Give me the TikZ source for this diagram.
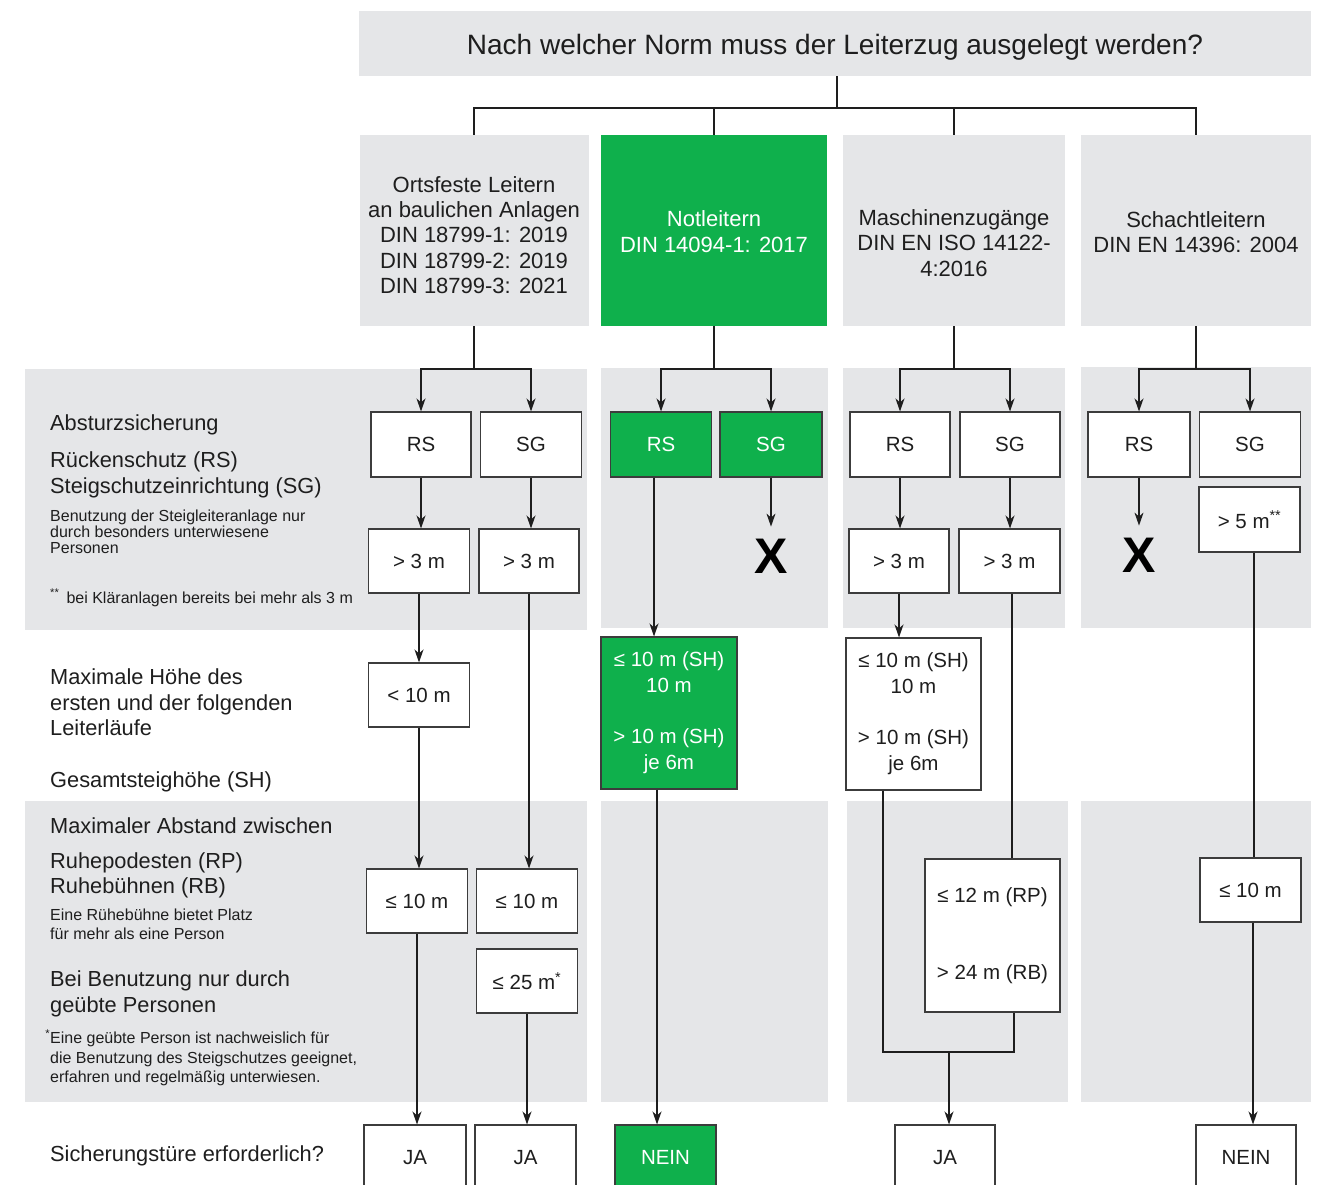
\documentclass[tikz,border=0pt]{standalone}
\usepackage{fontspec}
\setmainfont{Liberation Sans}
\usetikzlibrary{arrows.meta}
\definecolor{panel}{HTML}{E5E6E8}
\definecolor{grn}{HTML}{0FB04C}
\definecolor{edge}{HTML}{3C3C3C}
\definecolor{ink}{HTML}{1E1E1E}
\newcommand\fsz[2]{\fontsize{#1}{#2}\selectfont}
\begin{document}
\begin{tikzpicture}[x=1pt,y=-1pt,
  box/.style={draw=edge, line width=1.1pt, fill=white, inner sep=0pt, align=center, font=\fsz{20.5}{26}, text=ink},
  gbox/.style={box, fill=grn, text=white},
  cat/.style={fill=panel, inner sep=0pt},
  gcat/.style={fill=grn, inner sep=0pt},
  cattext/.style={align=center, inner sep=0pt, font=\fsz{22}{25.3}, text=ink},
  ltx/.style={anchor=base west, inner sep=0pt, font=\fsz{21.8}{26}, text=ink},
  stx/.style={anchor=base west, inner sep=0pt, font=\fsz{16}{19}, text=ink},
  line/.style={draw=ink, line width=1.35pt},
  arr/.style={line, -{Stealth[length=13pt,width=9pt,inset=4pt]}},
  cross/.style={inner sep=0pt, font=\fsz{50}{50}\bfseries, text=black},
]
\useasboundingbox (0,0) rectangle (1325,1184);
\clip (0,0) rectangle (1325,1184);

% background panels
\fill[panel] (25,369) rectangle (587,630);
\fill[panel] (601,368) rectangle (828,628);
\fill[panel] (843,368) rectangle (1065,628);
\fill[panel] (1081,367) rectangle (1311,628);
\fill[panel] (25,801) rectangle (587,1102);
\fill[panel] (601,801) rectangle (828,1102);
\fill[panel] (847,801) rectangle (1068,1102);
\fill[panel] (1081,801) rectangle (1311,1102);

% title
\node[cat, minimum width=952pt, minimum height=65pt] (title) at (835,43.5) {};
\node[anchor=base, inner sep=0pt, font=\fsz{28}{30}, text=ink] (tt) at (835,54)
  {Nach welcher Norm muss der Leiterzug ausgelegt werden?};

% category boxes
\node[cat, minimum width=229pt, minimum height=191pt] (c1) at (474,230.5) {};
\node[gcat, minimum width=226pt, minimum height=191pt] (c2) at (714,230.5) {};
\node[cat, minimum width=222pt, minimum height=191pt] (c3) at (954,230.5) {};
\node[cat, minimum width=230pt, minimum height=191pt] (c4) at (1196,230.5) {};
\node[cattext] (t1) at (474,235) {Ortsfeste Leitern\\an baulichen Anlagen\\DIN 18799-1: 2019\\DIN 18799-2: 2019\\DIN 18799-3: 2021};
\node[cattext, text=white] (t2) at (714,231.5) {Notleitern\\DIN 14094-1: 2017};
\node[cattext] (t3) at (954,243) {Maschinenzugänge\\DIN EN ISO 14122-\\4:2016};
\node[cattext] (t4) at (1196,232) {Schachtleitern\\DIN EN 14396: 2004};

% left texts
\node[ltx] (l1) at (50,430.5) {Absturzsicherung};
\node[ltx] (l2) at (50,467.5) {Rückenschutz (RS)};
\node[ltx] (l3) at (50,493.5) {Steigschutzeinrichtung (SG)};
\node[stx] (l4) at (50,521) {Benutzung der Steigleiteranlage nur};
\node[stx] (l5) at (50,537) {durch besonders unterwiesene};
\node[stx] (l6) at (50,553) {Personen};
\node[stx] (l7) at (50,603) {\textsuperscript{**}\, bei Kläranlagen bereits bei mehr als 3 m};
\node[ltx] (l8) at (50,684.5) {Maximale Höhe des};
\node[ltx] (l9) at (50,710.5) {ersten und der folgenden};
\node[ltx] (l10) at (50,735.5) {Leiterläufe};
\node[ltx] (l11) at (50,787.5) {Gesamtsteighöhe (SH)};
\node[ltx] (l12) at (50,833.5) {Maximaler Abstand zwischen};
\node[ltx] (l13) at (50,868.5) {Ruhepodesten (RP)};
\node[ltx] (l14) at (50,893.5) {Ruhebühnen (RB)};
\node[stx] (l15) at (50,920.5) {Eine Rühebühne bietet Platz};
\node[stx] (l16) at (50,939.5) {für mehr als eine Person};
\node[ltx] (l17) at (50,986.5) {Bei Benutzung nur durch};
\node[ltx] (l18) at (50,1012.5) {geübte Personen};
\node[stx] (l19) at (50,1043.5) {\llap{\textsuperscript{*}}Eine geübte Person ist nachweislich für};
\node[stx] (l20) at (50,1063) {die Benutzung des Steigschutzes geeignet,};
\node[stx] (l21) at (50,1082.5) {erfahren und regelmäßig unterwiesen.};
\node[ltx] (l22) at (50,1161.5) {Sicherungstüre erforderlich?};

% column 1
\node[box, minimum width=100pt, minimum height=65pt] (rs1) at (421,444.5) {RS};
\node[box, minimum width=101pt, minimum height=65pt] (sg1) at (531,444.5) {SG};
\node[box, minimum width=101pt, minimum height=64pt] (g1a) at (419,561) {> 3 m};
\node[box, minimum width=100pt, minimum height=64pt] (g1b) at (529,561) {> 3 m};
\node[box, minimum width=101pt, minimum height=64pt] (lt1) at (419,695) {< 10 m};
\node[box, minimum width=101pt, minimum height=64pt] (le1a) at (417,901) {≤ 10 m};
\node[box, minimum width=101pt, minimum height=64pt] (le1b) at (527,901) {≤ 10 m};
\node[box, minimum width=101pt, minimum height=64pt] (le25) at (527,981) {≤ 25 m\textsuperscript{*}};
\node[box, minimum width=102pt, minimum height=65pt] (ja1) at (415,1157.5) {JA};
\node[box, minimum width=101pt, minimum height=65pt] (ja2) at (525.5,1157.5) {JA};

% column 2
\node[gbox, minimum width=101pt, minimum height=65pt] (rs2) at (661,444.5) {RS};
\node[gbox, minimum width=102pt, minimum height=65pt] (sg2) at (771,444.5) {SG};
\node[cross] (x2) at (771,556) {X};
\node[gbox, minimum width=136pt, minimum height=152pt] (sh2) at (669,713) {≤ 10 m (SH)\\10 m\\[25pt]> 10 m (SH)\\je 6m};
\node[gbox, minimum width=101pt, minimum height=65pt] (nein2) at (665.5,1157.5) {NEIN};

% column 3
\node[box, minimum width=100pt, minimum height=65pt] (rs3) at (900,444.5) {RS};
\node[box, minimum width=100pt, minimum height=65pt] (sg3) at (1010,444.5) {SG};
\node[box, minimum width=100pt, minimum height=64pt] (g3a) at (899,561) {> 3 m};
\node[box, minimum width=101pt, minimum height=64pt] (g3b) at (1009.5,561) {> 3 m};
\node[box, minimum width=135pt, minimum height=152pt] (sh3) at (913.5,714) {≤ 10 m (SH)\\10 m\\[25pt]> 10 m (SH)\\je 6m};
\node[box, minimum width=135pt, minimum height=153pt] (rp3) at (992.5,935.5) {≤ 12 m (RP)\\[51pt]> 24 m (RB)};
\node[box, minimum width=100pt, minimum height=65pt] (ja3) at (945,1157.5) {JA};

% column 4
\node[box, minimum width=102pt, minimum height=65pt] (rs4) at (1139,444.5) {RS};
\node[box, minimum width=101pt, minimum height=65pt] (sg4) at (1250,444.5) {SG};
\node[cross] (x4) at (1139,555) {X};
\node[box, minimum width=101pt, minimum height=65pt] (g4) at (1249.5,519.5) {> 5 m\textsuperscript{**}};
\node[box, minimum width=101pt, minimum height=64pt] (le4) at (1250.5,890) {≤ 10 m};
\node[box, minimum width=100pt, minimum height=65pt] (nein4) at (1246,1157.5) {NEIN};

% connectors from title
\coordinate (hb) at (837,108);
\draw[line] (title.south -| hb) -- (hb);
\draw[line] (c1.north) |- (hb) -| (c4.north);
\draw[line] (c2.north) -- (c2.north |- hb);
\draw[line] (c3.north) -- (c3.north |- hb);

% branching into RS / SG
\coordinate (j1) at (c1.south |- 0,369);
\coordinate (j2) at (c2.south |- 0,369);
\coordinate (j3) at (c3.south |- 0,369);
\coordinate (j4) at (c4.south |- 0,369);
\draw[line] (c1.south) -- (j1);
\draw[arr] (j1) -| (rs1.north);
\draw[arr] (j1) -| (sg1.north);
\draw[line] (c2.south) -- (j2);
\draw[arr] (j2) -| (rs2.north);
\draw[arr] (j2) -| (sg2.north);
\draw[line] (c3.south) -- (j3);
\draw[arr] (j3) -| (rs3.north);
\draw[arr] (j3) -| (sg3.north);
\draw[line] (c4.south) -- (j4);
\draw[arr] (j4) -| (rs4.north);
\draw[arr] (j4) -| (sg4.north);

% column 1 flow
\draw[arr] (rs1.south) -- (rs1.south |- g1a.north);
\draw[arr] (sg1.south) -- (sg1.south |- g1b.north);
\draw[arr] (g1a.south) -- (g1a.south |- lt1.north);
\draw[arr] (lt1.south) -- (lt1.south |- le1a.north);
\draw[arr] (g1b.south) -- (g1b.south |- le1b.north);
\draw[arr] (le1a.south) -- (le1a.south |- ja1.north);
\draw[arr] (le25.south) -- (le25.south |- ja2.north);

% column 2 flow
\coordinate (rs2b) at ([xshift=-7pt]rs2.south);
\draw[arr] (rs2b) -- (rs2b |- sh2.north);
\draw[arr] (sg2.south) -- ([yshift=12pt]x2.north);
\coordinate (sh2b) at ([xshift=-12pt]sh2.south);
\draw[arr] (sh2b) -- (sh2b |- nein2.north);

% column 3 flow
\draw[arr] (rs3.south) -- (rs3.south |- g3a.north);
\draw[arr] (sg3.south) -- (sg3.south |- g3b.north);
\draw[arr] (g3a.south) -- (g3a.south |- sh3.north);
\coordinate (g3bb) at ([xshift=2.5pt]g3b.south);
\draw[line] (g3bb) -- (g3bb |- rp3.north);
\coordinate (m3) at (949,1052);
\coordinate (sh3b) at ([xshift=-30.5pt]sh3.south);
\coordinate (rp3b) at ([xshift=21.5pt]rp3.south);
\draw[line] (sh3b) |- (rp3b |- m3) -- (rp3b);
\draw[arr] (m3) -- (m3 |- ja3.north);

% column 4 flow
\draw[arr] (rs4.south) -- ([yshift=12pt]x4.north);
\coordinate (g4b) at ([xshift=4.5pt]g4.south);
\draw[line] (g4b) -- (g4b |- le4.north);
\coordinate (le4b) at ([xshift=2.5pt]le4.south);
\draw[arr] (le4b) -- (le4b |- nein4.north);
\end{tikzpicture}
\end{document}
